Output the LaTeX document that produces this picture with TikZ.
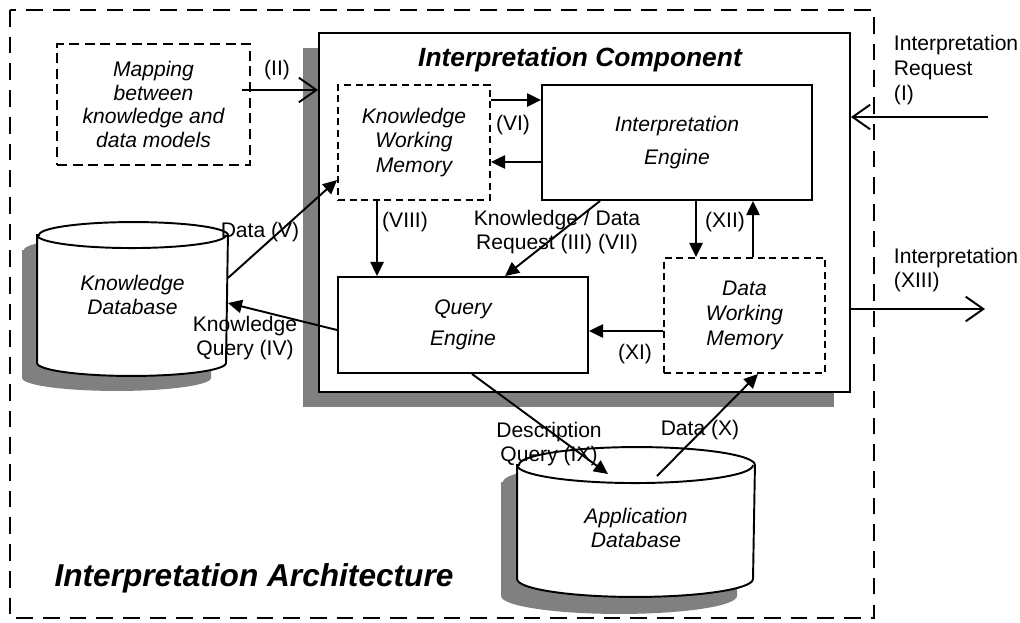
\documentclass[tikz,border=0pt]{standalone}
\usepackage{fontspec}
\setmainfont{Liberation Sans}
\usetikzlibrary{arrows.meta, calc}

\begin{document}
\begin{tikzpicture}[x=0.02cm, y=-0.02cm, line width=1.1pt,
  font=\fontsize{12}{14}\selectfont,
  box/.style={draw, fill=white, align=center, font=\fontsize{12}{14}\selectfont\itshape},
  wmbox/.style={box, dash pattern=on 4pt off 2.6pt},
  lbl/.style={align=center, inner sep=0pt},
  fwd/.style={-{Triangle[length=8pt, width=7.5pt]}},
  ext/.style={-{Straight Barb[length=10pt, width=14pt]}},
  shadow/.style={fill=black!50, draw=none}]
  \useasboundingbox (0,0) rectangle (1020,622);

  % outer architecture frame
  \draw[line width=1.5pt, dash pattern=on 9.5pt off 5.7pt] (10,10) rectangle (874,618);
  \node[font=\fontsize{18}{20}\selectfont\bfseries\itshape] (archtitle) at (254,578) {Interpretation Architecture};

  % interpretation component with shadow
  \fill[shadow] (303,48) rectangle (834,407);
  \node[draw, fill=white, minimum width=10.62cm, minimum height=7.18cm] (comp) at (584.5,212.5) {};
  \node[font=\fontsize{15}{18}\selectfont\bfseries\itshape] (comptitle) at (580,60) {Interpretation Component};

  \node[box, dash pattern=on 5.7pt off 3.2pt, font=\fontsize{12}{13.5}\selectfont\itshape,
        minimum width=3.86cm, minimum height=2.42cm] (map) at (153.5,104.5) {Mapping\\between\\knowledge and\\data models};
  \node[wmbox, minimum width=3.04cm, minimum height=2.3cm] (kwm) at (414,142.5) {Knowledge\\Working\\Memory};
  \node[box, minimum width=5.4cm, minimum height=2.3cm] (ieng) at (677,142.5) {Interpretation\\[4.5pt]Engine};
  \node[box, minimum width=5cm, minimum height=1.92cm] (qeng) at (463,325) {Query\\[3.5pt]Engine};
  \node[wmbox, minimum width=3.22cm, minimum height=2.3cm] (dwm) at (744.5,315.5) {Data\\Working\\Memory};

  % knowledge database
  \node[minimum width=3.78cm, minimum height=2.52cm] (kdb) at (132.5,299) {};
  \fill[shadow] ([shift={(-15,15)}]kdb.north west) -- ([shift={(-15,15)}]kdb.south west)
    arc[start angle=180, end angle=360, x radius=1.89cm, y radius=0.26cm]
    -- ([shift={(-15,15)}]kdb.north east)
    arc[start angle=0, end angle=180, x radius=1.89cm, y radius=0.26cm] -- cycle;
  \draw[fill=white] (kdb.north west) -- (kdb.south west)
    arc[start angle=180, end angle=360, x radius=1.89cm, y radius=0.26cm]
    -- (kdb.north east)
    arc[start angle=0, end angle=180, x radius=1.89cm, y radius=0.26cm] -- cycle;
  \draw (kdb.north west) arc[start angle=180, end angle=360, x radius=1.89cm, y radius=0.26cm];
  \node[lbl, font=\fontsize{12}{14}\selectfont\itshape] (kdbtext) at (132.5,295) {Knowledge\\Database};

  % application database
  \node[minimum width=4.72cm, minimum height=2.24cm] (adb) at (636,522) {};
  \fill[shadow] ([shift={(-16,17)}]adb.north west) -- ([shift={(-16,17)}]adb.south west)
    arc[start angle=180, end angle=360, x radius=2.36cm, y radius=0.36cm]
    -- ([shift={(-16,17)}]adb.north east)
    arc[start angle=0, end angle=180, x radius=2.36cm, y radius=0.36cm] -- cycle;
  \draw[fill=white] (adb.north west) -- (adb.south west)
    arc[start angle=180, end angle=360, x radius=2.36cm, y radius=0.36cm]
    -- (adb.north east)
    arc[start angle=0, end angle=180, x radius=2.36cm, y radius=0.36cm] -- cycle;
  \draw (adb.north west) arc[start angle=180, end angle=360, x radius=2.36cm, y radius=0.36cm];
  \node[lbl, font=\fontsize{12}{14}\selectfont\itshape] (adbtext) at (636,528) {Application\\Database};

  % external connectors
  \coordinate (mapout) at (242,90);
  \coordinate (reqin) at (988,117);
  \coordinate (resout) at (985,309);
  \draw[ext] (mapout) -- (mapout -| comp.west);
  \draw[ext] (reqin) -- (reqin -| comp.east);
  \draw[ext] (resout -| comp.east) -- (resout);

  % internal connectors
  \draw[fwd] ([yshift=0.85cm]kwm.east) -- ([yshift=0.85cm]ieng.west);
  \draw[fwd] ([yshift=-0.39cm]ieng.west) -- ([yshift=-0.39cm]kwm.east);
  \draw[fwd] ([xshift=-0.74cm]kwm.south) -- ([xshift=-1.72cm]qeng.north);
  \draw[fwd] ([xshift=-1.54cm]ieng.south) -- ([xshift=0.84cm]qeng.north);
  \draw[fwd] ([xshift=0.38cm]ieng.south) -- ([xshift=-0.97cm]dwm.north);
  \draw[fwd] ([xshift=0.17cm]dwm.north) -- ([xshift=1.52cm]ieng.south);
  \draw[fwd] ([yshift=-0.31cm]dwm.west) -- ([yshift=-0.12cm]qeng.east);
  \draw[fwd] ([yshift=-0.1cm]qeng.west) -- ([yshift=-0.08cm]kdb.east);
  \draw[fwd] ([yshift=0.42cm]kdb.east) -- ([yshift=-0.75cm]kwm.west);
  \draw[fwd] ([xshift=0.18cm]qeng.south) -- ([shift={(-28,9)}]adb.north);
  \draw[fwd] ([shift={(21,11)}]adb.north) -- ([xshift=0.27cm]dwm.south);

  % connector labels
  \node[lbl] (lII) at (277,70) {(II)};
  \node[lbl] (lVI) at (513,125) {(VI)};
  \node[lbl] (lVIII) at (405,222) {(VIII)};
  \node[lbl] (lIII) at (557,232) {Knowledge / Data\\Request (III) (VII)};
  \node[lbl] (lXII) at (725,222) {(XII)};
  \node[lbl] (lXI) at (635,354) {(XI)};
  \node[lbl] (lV) at (260,232) {Data (V)};
  \node[lbl] (lIV) at (245,338) {Knowledge\\Query (IV)};
  \node[lbl] (lIX) at (549,444) {Description\\Query (IX)};
  \node[lbl] (lX) at (700,430) {Data (X)};
  \node[lbl, align=left, anchor=west] (lI) at (893,70) {Interpretation\\Request\\(I)};
  \node[lbl, align=left, anchor=west] (lXIII) at (893,270) {Interpretation\\(XIII)};
\end{tikzpicture}
\end{document}
